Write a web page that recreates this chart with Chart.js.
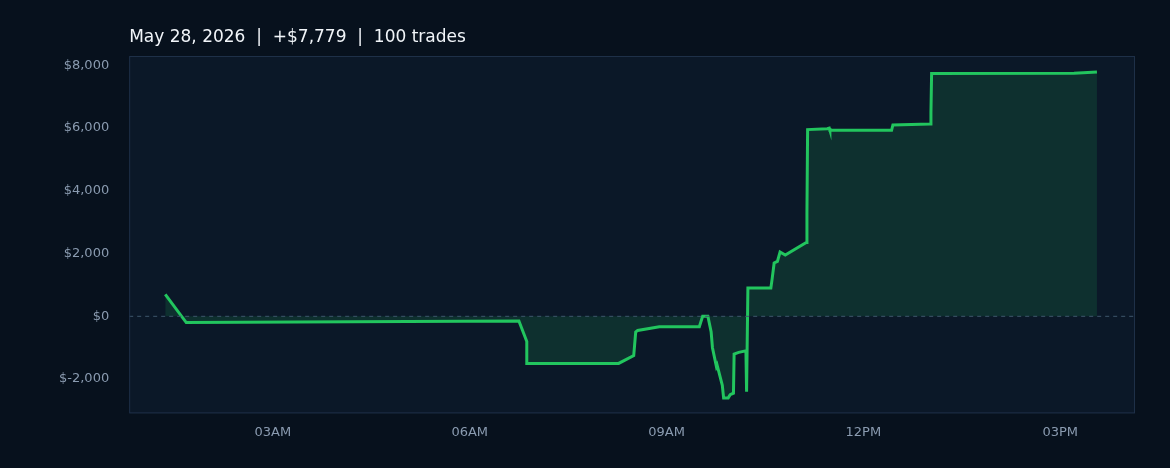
<!DOCTYPE html>
<html><head><meta charset="utf-8">
<script src="https://cdn.jsdelivr.net/npm/chart.js@4/dist/chart.umd.min.js"></script>
<style>html,body{margin:0;padding:0;background:#07111d;}#w{width:1170px;height:468px;}</style>
</head><body><div id="w"><canvas id="c"></canvas></div>
<script>
const titleText = "May 28, 2026  |  +$7,779  |  100 trades";
const hours = [1.36,1.68,6.75,6.87,6.87,8.27,8.50,8.53,8.56,8.89,9.50,9.55,9.63,9.68,9.70,9.76,9.77,9.85,9.87,9.94,9.97,10.02,10.03,10.10,10.21,10.22,10.24,10.59,10.61,10.64,10.69,10.73,10.81,11.13,11.14,11.15,11.45,11.48,11.49,12.43,12.45,13.02,13.03,13.04,15.21,15.56];
const pnl =   [700,-200,-150,-800,-1500,-1500,-1250,-500,-450,-330,-330,0,0,-500,-1000,-1600,-1550,-2200,-2600,-2600,-2500,-2450,-1200,-1150,-1100,-2400,900,900,1200,1700,1750,2050,1950,2350,3300,5950,5980,6000,5930,5930,6100,6130,6500,7740,7750,7790];
const xTicks = [3,6,9,12,15];
const xTickLabels = ["03AM","06AM","09AM","12PM","03PM"];
const yTicks = [-2000,0,2000,4000,6000,8000];

const bgPlugin = {id:'bg',beforeDraw(ch){const a=ch.chartArea,g=ch.ctx;g.save();g.fillStyle='#0b1828';g.fillRect(a.left,a.top,a.right-a.left,a.bottom-a.top);
  g.fillStyle='#f1f5f9';g.font='17px "DejaVu Sans"';g.textBaseline='alphabetic';g.fillText(titleText,a.left,42);g.restore();},
 afterDatasetsDraw(ch){const a=ch.chartArea,g=ch.ctx,y=ch.scales.y.getPixelForValue(0);g.save();g.strokeStyle='#3d566b';g.lineWidth=1;g.setLineDash([4,4]);g.beginPath();g.moveTo(a.left,y);g.lineTo(a.right,y);g.stroke();g.setLineDash([]);g.strokeStyle='#1e3048';g.strokeRect(a.left+0.5,a.top+0.5,a.right-a.left-1,a.bottom-a.top-1);g.restore();}};

new Chart(document.getElementById('c'),{
 type:'line',
 data:{datasets:[{data:hours.map((h,i)=>({x:h,y:pnl[i]})),borderColor:'#22c55e',borderWidth:3,pointRadius:0,tension:0,fill:{target:{value:0},above:'rgba(34,197,94,0.14)',below:'rgba(34,197,94,0.14)'}}]},
 options:{responsive:true,maintainAspectRatio:false,animation:false,
  layout:{padding:{left:47,right:35,top:56,bottom:25}},
  plugins:{legend:{display:false},tooltip:{enabled:false},title:{display:false}},
  scales:{
   x:{type:'linear',min:0.81,max:16.14,grid:{display:false},border:{display:false},
      afterBuildTicks(ax){ax.ticks=xTicks.map(v=>({value:v}));},
      ticks:{color:'#8a9bb0',font:{family:'DejaVu Sans',size:13},padding:3,callback:(v)=>xTickLabels[xTicks.indexOf(v)]}},
   y:{min:-3094,max:8296,grid:{display:false},border:{display:false},
      afterBuildTicks(ax){ax.ticks=yTicks.map(v=>({value:v}));},
      ticks:{color:'#8a9bb0',font:{family:'DejaVu Sans',size:13},padding:12,
       callback:(v)=>(v<0?'$-':'$')+Math.abs(v).toLocaleString('en-US')}}
  }},
 plugins:[bgPlugin]
});
</script></body></html>
